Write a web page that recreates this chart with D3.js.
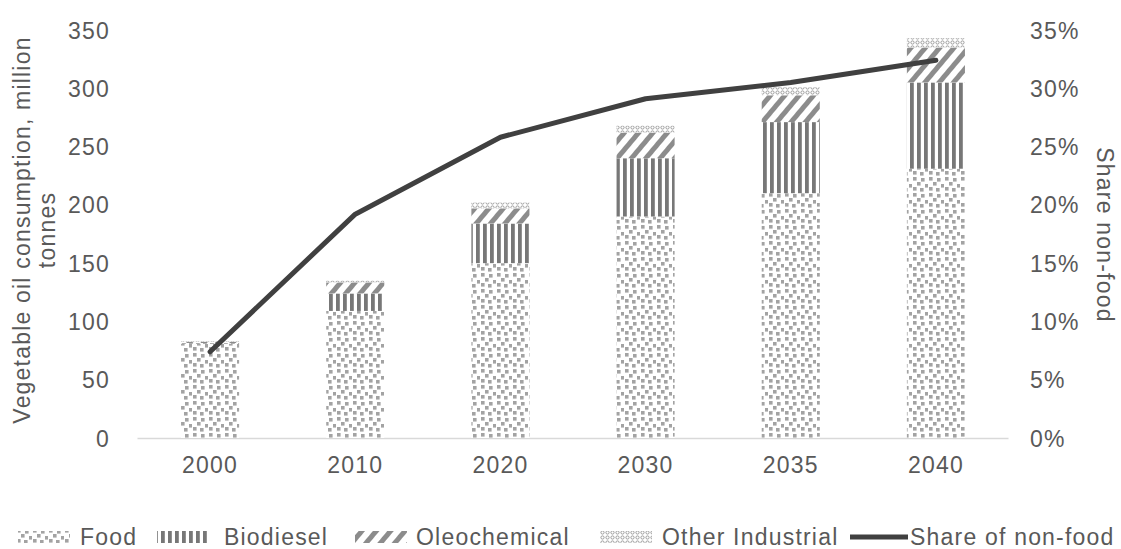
<!DOCTYPE html>
<html><head><meta charset="utf-8">
<script src="https://cdn.jsdelivr.net/npm/d3@7"></script>
<style>
body{margin:0;background:#fff}
text{font-family:"Liberation Sans",Arial,sans-serif;fill:#595959;font-size:23px;letter-spacing:1.2px}
</style>
</head><body>
<svg id="c" width="1121" height="549"></svg>
<script>
const years=["2000","2010","2020","2030","2035","2040"];
const food=[81,109,150,190,210,231];
const biodiesel=[0.5,15,34,50,61,74];
const oleochemical=[1,9.5,13,22,23,30];
const otherIndustrial=[0.5,1.5,5,6,7,8];
const shareNonFood=[0.074,0.192,0.258,0.291,0.305,0.324];
const leftTicks=[0,50,100,150,200,250,300,350];
const rightTicks=[0,0.05,0.10,0.15,0.20,0.25,0.30,0.35];
const seriesNames=["Food","Biodiesel","Oleochemical","Other Industrial"];
const lineName="Share of non-food";

const svg=d3.select("#c");
const defs=svg.append("defs");
// Food: scattered grey squares
const pf=defs.append("pattern").attr("id","pFood").attr("patternUnits","userSpaceOnUse").attr("width",16).attr("height",16);
[[1,1],[9,2],[5,6],[13,8],[1,11],[8,12]].forEach(p=>pf.append("rect").attr("x",p[0]).attr("y",p[1]).attr("width",3.6).attr("height",3.6).attr("fill","#a3a3a3"));
// Biodiesel: vertical stripes
const pb=defs.append("pattern").attr("id","pBio").attr("patternUnits","userSpaceOnUse").attr("width",7).attr("height",10);
pb.append("rect").attr("x",0).attr("y",0).attr("width",3.8).attr("height",10).attr("fill","#777");
// Oleochemical: diagonal stripes
const po=defs.append("pattern").attr("id","pOleo").attr("patternUnits","userSpaceOnUse").attr("width",11).attr("height",11).attr("patternTransform","rotate(40)");
po.append("rect").attr("x",0).attr("y",0).attr("width",5).attr("height",11).attr("fill","#8c8c8c");
// Other industrial: small rings
const pi=defs.append("pattern").attr("id","pOther").attr("patternUnits","userSpaceOnUse").attr("width",5).attr("height",5);
pi.append("circle").attr("cx",2.5).attr("cy",2.5).attr("r",1.6).attr("fill","none").attr("stroke","#999").attr("stroke-width",1);
const fills=["url(#pFood)","url(#pBio)","url(#pOleo)","url(#pOther)"];

const x=d3.scaleBand().domain(years).range([137.5,1008.5]).paddingInner(0.6).paddingOuter(0.3);
const y=d3.scaleLinear().domain([0,350]).range([438,30]);
const y2=d3.scaleLinear().domain([0,0.35]).range([438,30]);

const rows=years.map((yr,i)=>({year:yr,Food:food[i],Biodiesel:biodiesel[i],Oleochemical:oleochemical[i],"Other Industrial":otherIndustrial[i]}));
const stacked=d3.stack().keys(seriesNames)(rows);

// baseline
svg.append("line").attr("x1",137.5).attr("x2",1008.5).attr("y1",y(0)+0.5).attr("y2",y(0)+0.5).attr("stroke","#d9d9d9").attr("stroke-width",1.5);

stacked.forEach((s,k)=>{
  svg.append("g").selectAll("rect").data(s).join("rect")
    .attr("x",d=>x(d.data.year)).attr("width",x.bandwidth())
    .attr("y",d=>y(d[1])).attr("height",d=>y(d[0])-y(d[1]))
    .attr("fill","#fff");
  svg.append("g").selectAll("rect").data(s).join("rect")
    .attr("x",d=>x(d.data.year)).attr("width",x.bandwidth())
    .attr("y",d=>y(d[1])).attr("height",d=>y(d[0])-y(d[1]))
    .attr("fill",fills[k]);
});

// line
const line=d3.line().x((d,i)=>x(years[i])+x.bandwidth()/2).y(d=>y2(d));
svg.append("path").datum(shareNonFood).attr("d",line).attr("fill","none").attr("stroke","#404040").attr("stroke-width",5).attr("stroke-linejoin","round").attr("stroke-linecap","round");

// left axis
const la=svg.append("g").attr("transform","translate(110,0)").call(d3.axisLeft(y).tickValues(leftTicks).tickSize(0).tickPadding(0).tickFormat(d3.format("d")));
la.select(".domain").remove();
la.selectAll("text").attr("font-size",null).attr("font-family",null).attr("dy","0.35em");
// right axis
const ra=svg.append("g").attr("transform","translate(1030,0)").call(d3.axisRight(y2).tickValues(rightTicks).tickSize(0).tickPadding(0).tickFormat(d3.format(".0%")));
ra.select(".domain").remove();
ra.selectAll("text").attr("font-size",null).attr("font-family",null).attr("dy","0.35em");
// x axis
const xa=svg.append("g").attr("transform","translate(0,"+y(0)+")").call(d3.axisBottom(x).tickSize(0).tickPadding(19));
xa.select(".domain").remove();
xa.selectAll("text").attr("font-size",null).attr("font-family",null).attr("dy","0.71em");

// axis titles
const lt=svg.append("text").attr("transform","translate(30,230) rotate(-90)").attr("text-anchor","middle");
lt.append("tspan").attr("x",0).attr("dy",0).text("Vegetable oil consumption, million");
lt.append("tspan").attr("x",0).attr("dy",25).text("tonnes");
svg.append("text").attr("transform","translate(1097,235) rotate(90)").attr("text-anchor","middle").text("Share non-food");

// legend
const lg=svg.append("g");
const legX=[18,157,355,600];
const legT=[80,224,416,662];
seriesNames.forEach((n,k)=>{
  lg.append("rect").attr("x",legX[k]).attr("y",531).attr("width",52).attr("height",12).attr("fill",fills[k]);
  lg.append("text").attr("x",legT[k]).attr("y",537).attr("dy","0.35em").text(n);
});
lg.append("line").attr("x1",850).attr("x2",908).attr("y1",537).attr("y2",537).attr("stroke","#404040").attr("stroke-width",5);
lg.append("text").attr("x",910).attr("y",537).attr("dy","0.35em").text(lineName);
</script>
</body></html>
